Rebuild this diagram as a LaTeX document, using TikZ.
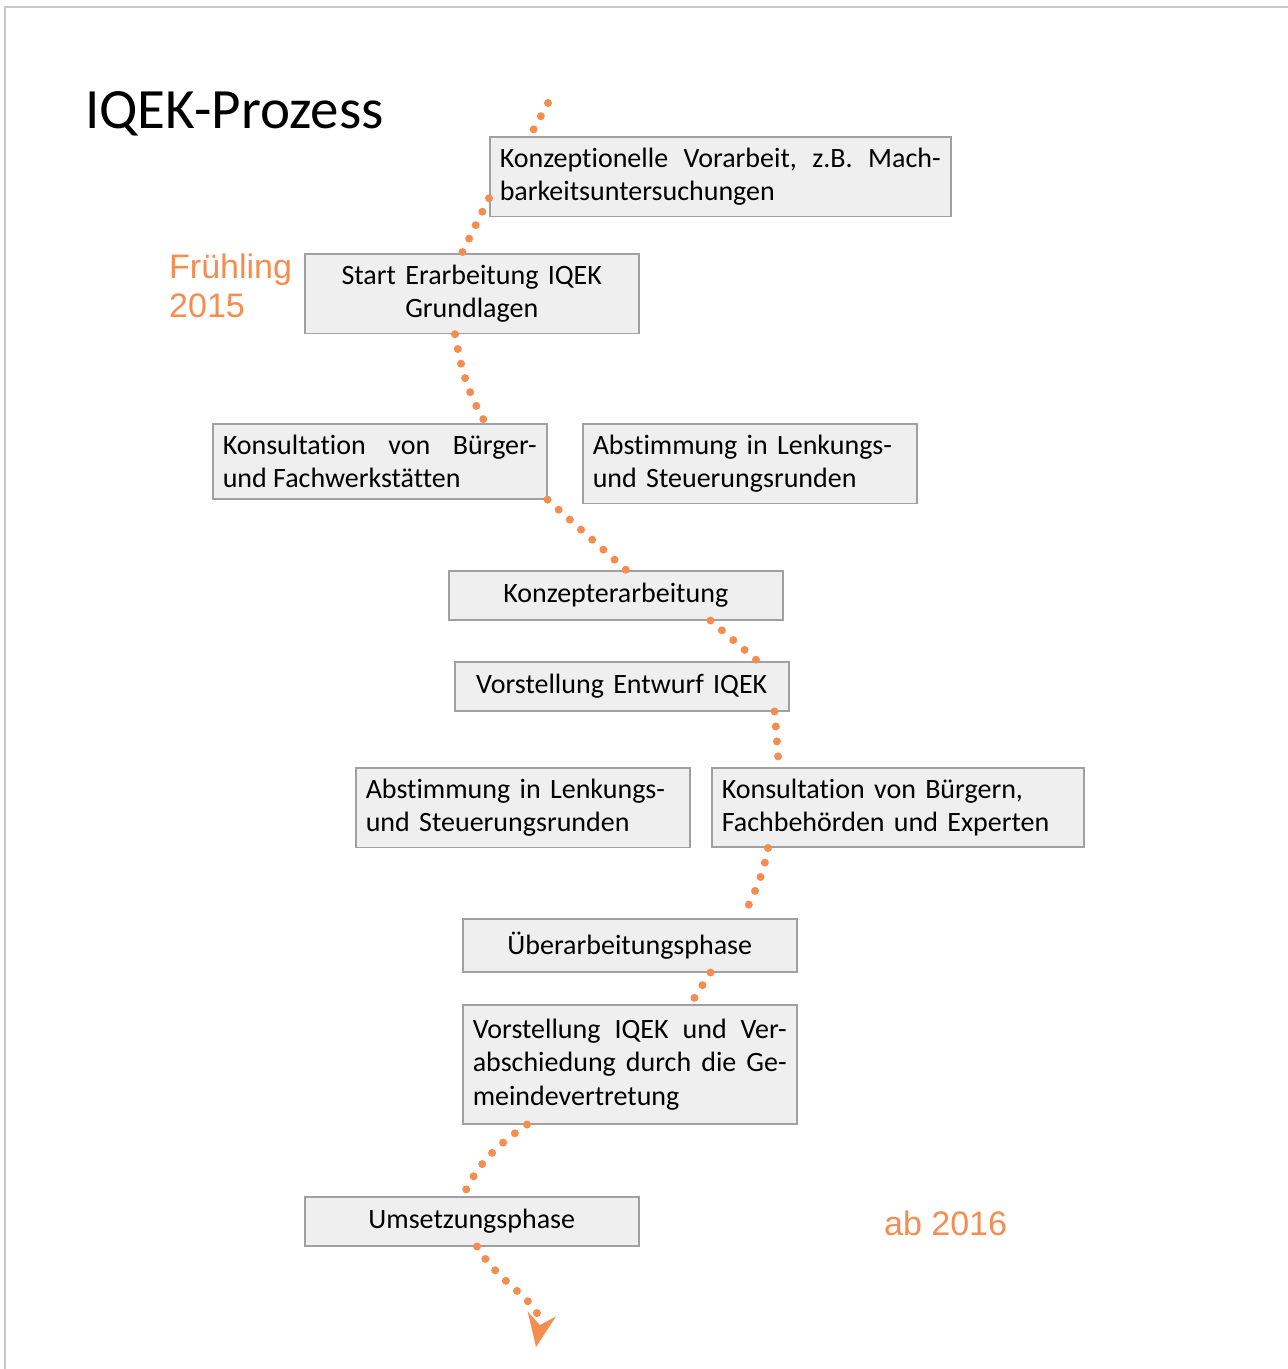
\documentclass[tikz,border=0pt]{standalone}
\usepackage{fontspec}
\setmainfont[Ligatures=NoCommon]{Carlito}
\newfontfamily\arialfont{Liberation Sans}
\usepackage{tikz}
\usetikzlibrary{arrows.meta}
\definecolor{iqorange}{RGB}{245,140,80}
\definecolor{boxfill}{RGB}{239,239,239}
\definecolor{boxline}{RGB}{160,160,160}
\definecolor{framegray}{RGB}{200,200,200}
\tikzset{stage/.style = {draw=boxline, fill=boxfill, line width=1.5pt, anchor=north west,
                         inner xsep=10pt, inner ysep=11pt, text width=314pt,
                         font=\fontsize{28}{33.5}\selectfont\frenchspacing},
         trail/.style = {draw=iqorange, line width=8pt, line cap=round, dash pattern=on 0pt off 15pt},
         season/.style = {iqorange, inner sep=0pt, font=\arialfont\fontsize{34}{39}\selectfont}}

\begin{document}
\begin{tikzpicture}[x=1pt, y=-1pt]
                    \useasboundingbox (0,0) rectangle (1288,1369);
                    \draw[framegray, line width=2pt] (5,1369) -- (5,7) -- (1288,7);

                    \node[anchor=base west, inner sep=0pt, font=\fontsize{57}{63}\selectfont] (title) at (85,128) {IQEK-Prozess};
                    \node[season, anchor=north west, align=left] (fr) at (169,254) {Frühling\\2015};
                    \node[season, anchor=base west] (ab) at (884,1235) {ab 2016};

                    \node[stage, text width=441pt, align=justify] (KV) at (489,136) {Konzeptionelle Vorarbeit, z.B. Mach-\linebreak barkeitsuntersuchungen};
                    \node[stage, align=center] (SE) at (304,253) {Start Erarbeitung IQEK\\Grundlagen};
                    \node[stage, align=justify] (KB) at (212,423) {Konsultation von Bürger-\linebreak und Fachwerkstätten};
                    \node[stage, align=left] (AL1) at (582,423) {Abstimmung in Lenkungs-\\und Steuerungsrunden};
                    \node[stage, align=center, minimum height=49pt] (KE) at (448,570) {Konzepterarbeitung};
                    \node[stage, align=center, minimum height=49pt] (VE) at (454,661) {Vorstellung Entwurf IQEK};
                    \node[stage, align=left] (AL2) at (355,767) {Abstimmung in Lenkungs-\\und Steuerungsrunden};
                    \node[stage, text width=352pt, align=left] (KF) at (711,767) {Konsultation von Bürgern,\\Fachbehörden und Experten};
                    \node[stage, align=center, minimum height=53pt] (UA) at (462,918) {Überarbeitungsphase};
                    \node[stage, align=justify, minimum height=119pt] (VA) at (462,1004) {Vorstellung IQEK und Ver-\linebreak abschiedung durch die Ge-\linebreak meindevertretung};
                    \node[stage, align=center, minimum height=49pt] (US) at (304,1196) {Umsetzungsphase};

                    \coordinate (start) at (548,103);
                    \coordinate (end) at (536,1347);

                    \draw[trail] (start) -- ([shift={(41,0)}]KV.north west);
                    \draw[trail] ([shift={(0,-19)}]KV.south west) -- ([shift={(158,0)}]SE.north west);
                    \draw[trail] ([shift={(151,0)}]SE.south west) to[out=-80, in=120] ([shift={(-62,0)}]KB.north east);
                    \draw[trail] (KB.south east) -- ([shift={(178,0)}]KE.north west);
                    \draw[trail] ([shift={(-73,0)}]KE.south east) -- ([shift={(-32,0)}]VE.north east);
                    \draw[trail] ([shift={(-15,0)}]VE.south east) to[out=-85, in=95] ([shift={(68,0)}]KF.north west);
                    \draw[trail] ([shift={(57,0)}]KF.south west) to[out=-100, in=65] ([shift={(-55,0)}]UA.north east);
                    \draw[trail] ([shift={(-87,0)}]UA.south east) -- ([shift={(-107,0)}]VA.north east);
                    \draw[trail] ([shift={(65,0)}]VA.south west) to[out=-145, in=65] ([shift={(159,0)}]US.north west);
                    \draw[trail, -{Stealth[length=33pt 0, width=28pt 0, fill=iqorange]}] ([shift={(173,0)}]US.south west) to[out=-60, in=80] (end);
                \end{tikzpicture}
\end{document}
